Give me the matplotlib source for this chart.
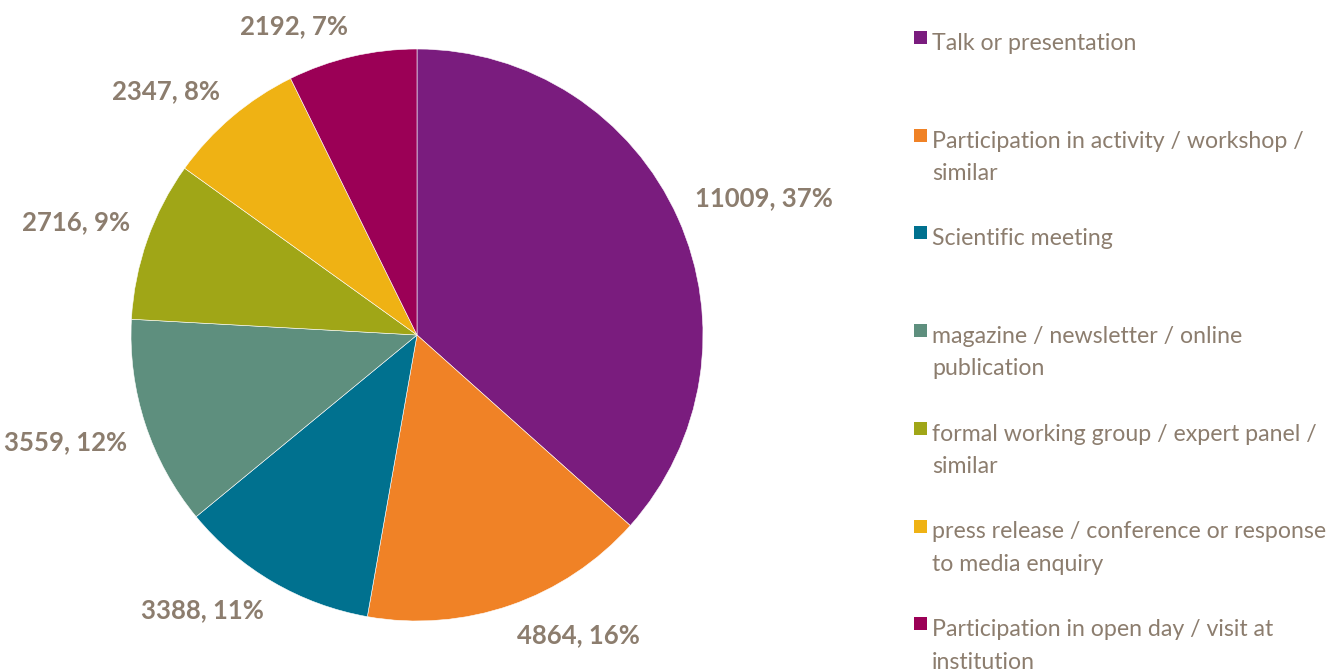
import math
import matplotlib
matplotlib.use("Agg")
import matplotlib.pyplot as plt
from matplotlib.patches import Rectangle

categories = [
    "Talk or presentation",
    "Participation in activity / workshop /\nsimilar",
    "Scientific meeting",
    "magazine / newsletter / online\npublication",
    "formal working group / expert panel /\nsimilar",
    "press release / conference or response\nto media enquiry",
    "Participation in open day / visit at\ninstitution",
]
counts = [11009, 4864, 3388, 3559, 2716, 2347, 2192]
percent_labels = ["37%", "16%", "11%", "12%", "9%", "8%", "7%"]
colors = ["#7A1C7E", "#F08226", "#00718F", "#5E8F7E", "#A0A617", "#EFB214", "#9B0056"]

text_color = "#8C7D6E"
W, H = 1341, 671
cx, cy = 417, H - 335

fig = plt.figure(figsize=(W / 100, H / 100), dpi=100)
ax = fig.add_axes([0, 0, 1, 1])

labels = [f"{c}, {p}" for c, p in zip(counts, percent_labels)]
wedges, texts = ax.pie(
    counts,
    labels=labels,
    colors=colors,
    startangle=90,
    counterclock=False,
    center=(cx, cy),
    radius=286,
    labeldistance=1.065,
    wedgeprops=dict(edgecolor="white", linewidth=0.4),
    textprops=dict(color=text_color, fontsize=18.5, fontweight="bold",
                   family=["Lato", "DejaVu Sans"]),
    frame=True,
)
# anchor the corner of each label nearest the pie at the label point
for t in texts:
    x, y = t.get_position()
    t.set_horizontalalignment("left" if x > cx else "right")
    t.set_verticalalignment("bottom" if y > cy else "top")

ax.set_xlim(0, W)
ax.set_ylim(0, H)
ax.set_aspect("equal")
ax.axis("off")

# Legend drawn as coloured squares with wrapped labels
x_box, x_text = 914, 932
y0, step = 42, 97.7
for i, (cat, col) in enumerate(zip(categories, colors)):
    y = H - (y0 + i * step)
    ax.add_patch(Rectangle((x_box, y - 2), 13, 13, facecolor=col, edgecolor="none"))
    ax.text(x_text, y + 9, cat, ha="left", va="top", color=text_color,
            fontsize=16.7, fontweight="normal", family=["Lato", "DejaVu Sans"],
            linespacing=1.67)

fig.savefig("out.png", dpi=100)
